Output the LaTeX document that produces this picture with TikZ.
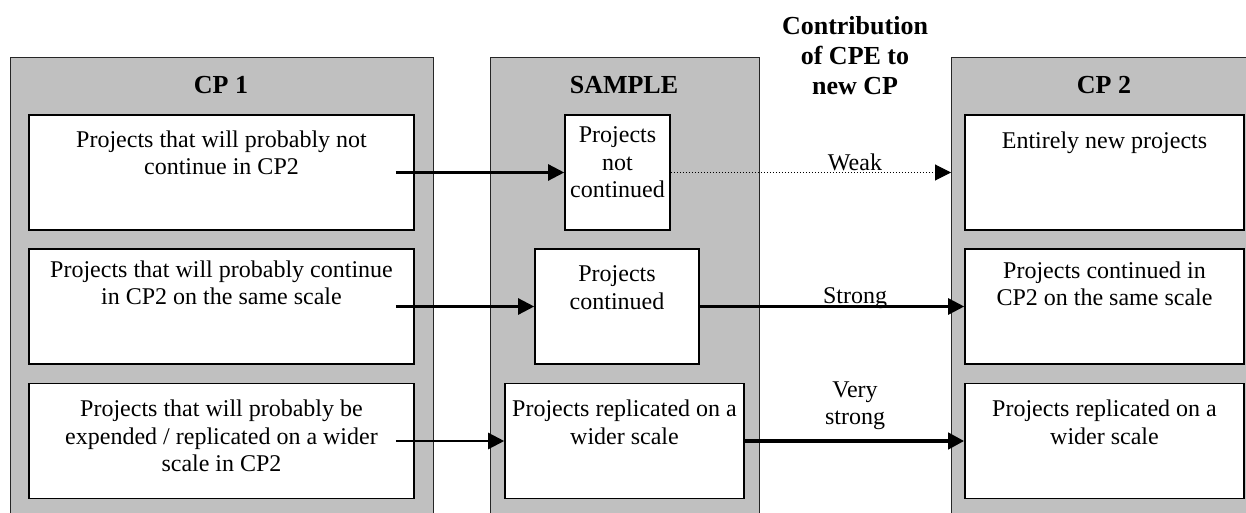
\documentclass[tikz,border=0pt]{standalone}
\usepackage{fontspec}
\setmainfont{Liberation Serif}
\usetikzlibrary{arrows.meta}
\definecolor{panelgray}{RGB}{192,192,192}
\begin{document}
\begin{tikzpicture}[x=0.5pt,y=-0.5pt,
  panel/.style={draw=black!85,fill=panelgray,line width=0.6pt,anchor=north west,inner sep=0,minimum height=245pt},
  item/.style={draw,fill=white,line width=0.8pt,inner sep=0,minimum height=57.5pt},
  itemtext/.style={anchor=north,inner sep=0,align=center,font=\fontsize{12}{13.8}\selectfont},
  head/.style={font=\bfseries\fontsize{13}{15}\selectfont,align=center,inner sep=0},
  lbl/.style={font=\fontsize{12}{13.8}\selectfont,align=center,inner sep=0},
  link/.style={-{Triangle[length=8pt,width=8pt]},line width=1.2pt}]

\useasboundingbox (0,0) rectangle (1246,513);
\clip (0,0) rectangle (1246,513);

%panels
\node[panel,minimum width=211.5pt] (cp1) at (10,57) {};
\node[panel,minimum width=134.5pt] (smp) at (490,57) {};
\node[panel,minimum width=159.5pt] (cp2) at (951,57) {};

\node[head] (h1) at (221,85) {CP 1};
\node[head] (h2) at (624,85) {SAMPLE};
\node[head] (h3) at (1104,85) {CP 2};
\node[head] (h4) at (855,56) {Contribution\\of CPE to\\new CP};

%1
\node[item,minimum width=192.5pt] (a1) at (221.5,172.5) {};
\node[itemtext] (a1t) at ([yshift=-8pt]a1.north) {Projects that will probably not\\continue in CP2};
\node[item,minimum width=52.5pt] (b1) at (617.5,172.5) {};
\node[itemtext] (b1t) at ([yshift=-6pt]b1.north) {Projects\\not\\continued};
\node[item,minimum width=139.5pt] (c1) at (1104.5,172.5) {};
\node[itemtext] (c1t) at ([yshift=-8.5pt]c1.north) {Entirely new projects};

%2
\node[item,minimum width=192.5pt] (a2) at (221.5,306.5) {};
\node[itemtext] (a2t) at ([yshift=-6pt]a2.north) {Projects that will probably continue\\in CP2 on the same scale};
\node[item,minimum width=82pt] (b2) at (617,306.5) {};
\node[itemtext] (b2t) at ([yshift=-8.5pt]b2.north) {Projects\\continued};
\node[item,minimum width=139.5pt] (c2) at (1104.5,306.5) {};
\node[itemtext] (c2t) at ([yshift=-6.5pt]c2.north) {Projects continued in\\CP2 on the same scale};

%3
\node[item,minimum width=192.5pt] (a3) at (221.5,441) {};
\node[itemtext] (a3t) at ([yshift=-8.5pt]a3.north) {Projects that will probably be\\expended / replicated on a wider\\scale in CP2};
\node[item,minimum width=119.5pt] (b3) at (624.5,441) {};
\node[itemtext] (b3t) at ([yshift=-8.5pt]b3.north) {Projects replicated on a\\wider scale};
\node[item,minimum width=139.5pt] (c3) at (1104.5,441) {};
\node[itemtext] (c3t) at ([yshift=-8.5pt]c3.north) {Projects replicated on a\\wider scale};

%arrows
\draw[link] ([xshift=-9.5pt]a1.east) -- (b1.west);
\draw[link,line width=0.5pt,densely dotted] (b1.east) -- (cp2.west |- b1.east);
\draw[link] ([xshift=-9.5pt]a2.east) -- (b2.west);
\draw[link] (b2.east) -- (c2.west);
\draw[link] ([xshift=-9.5pt]a3.east) -- (b3.west);
\draw[link,line width=2.2pt] (b3.east) -- (c3.west);

\node[lbl,anchor=base] (wk) at (855,171) {Weak};
\node[lbl,anchor=base] (st) at (855,303) {Strong};
\node[lbl,anchor=north] (vst) at (855,381) {Very\\strong};
\end{tikzpicture}
\end{document}
